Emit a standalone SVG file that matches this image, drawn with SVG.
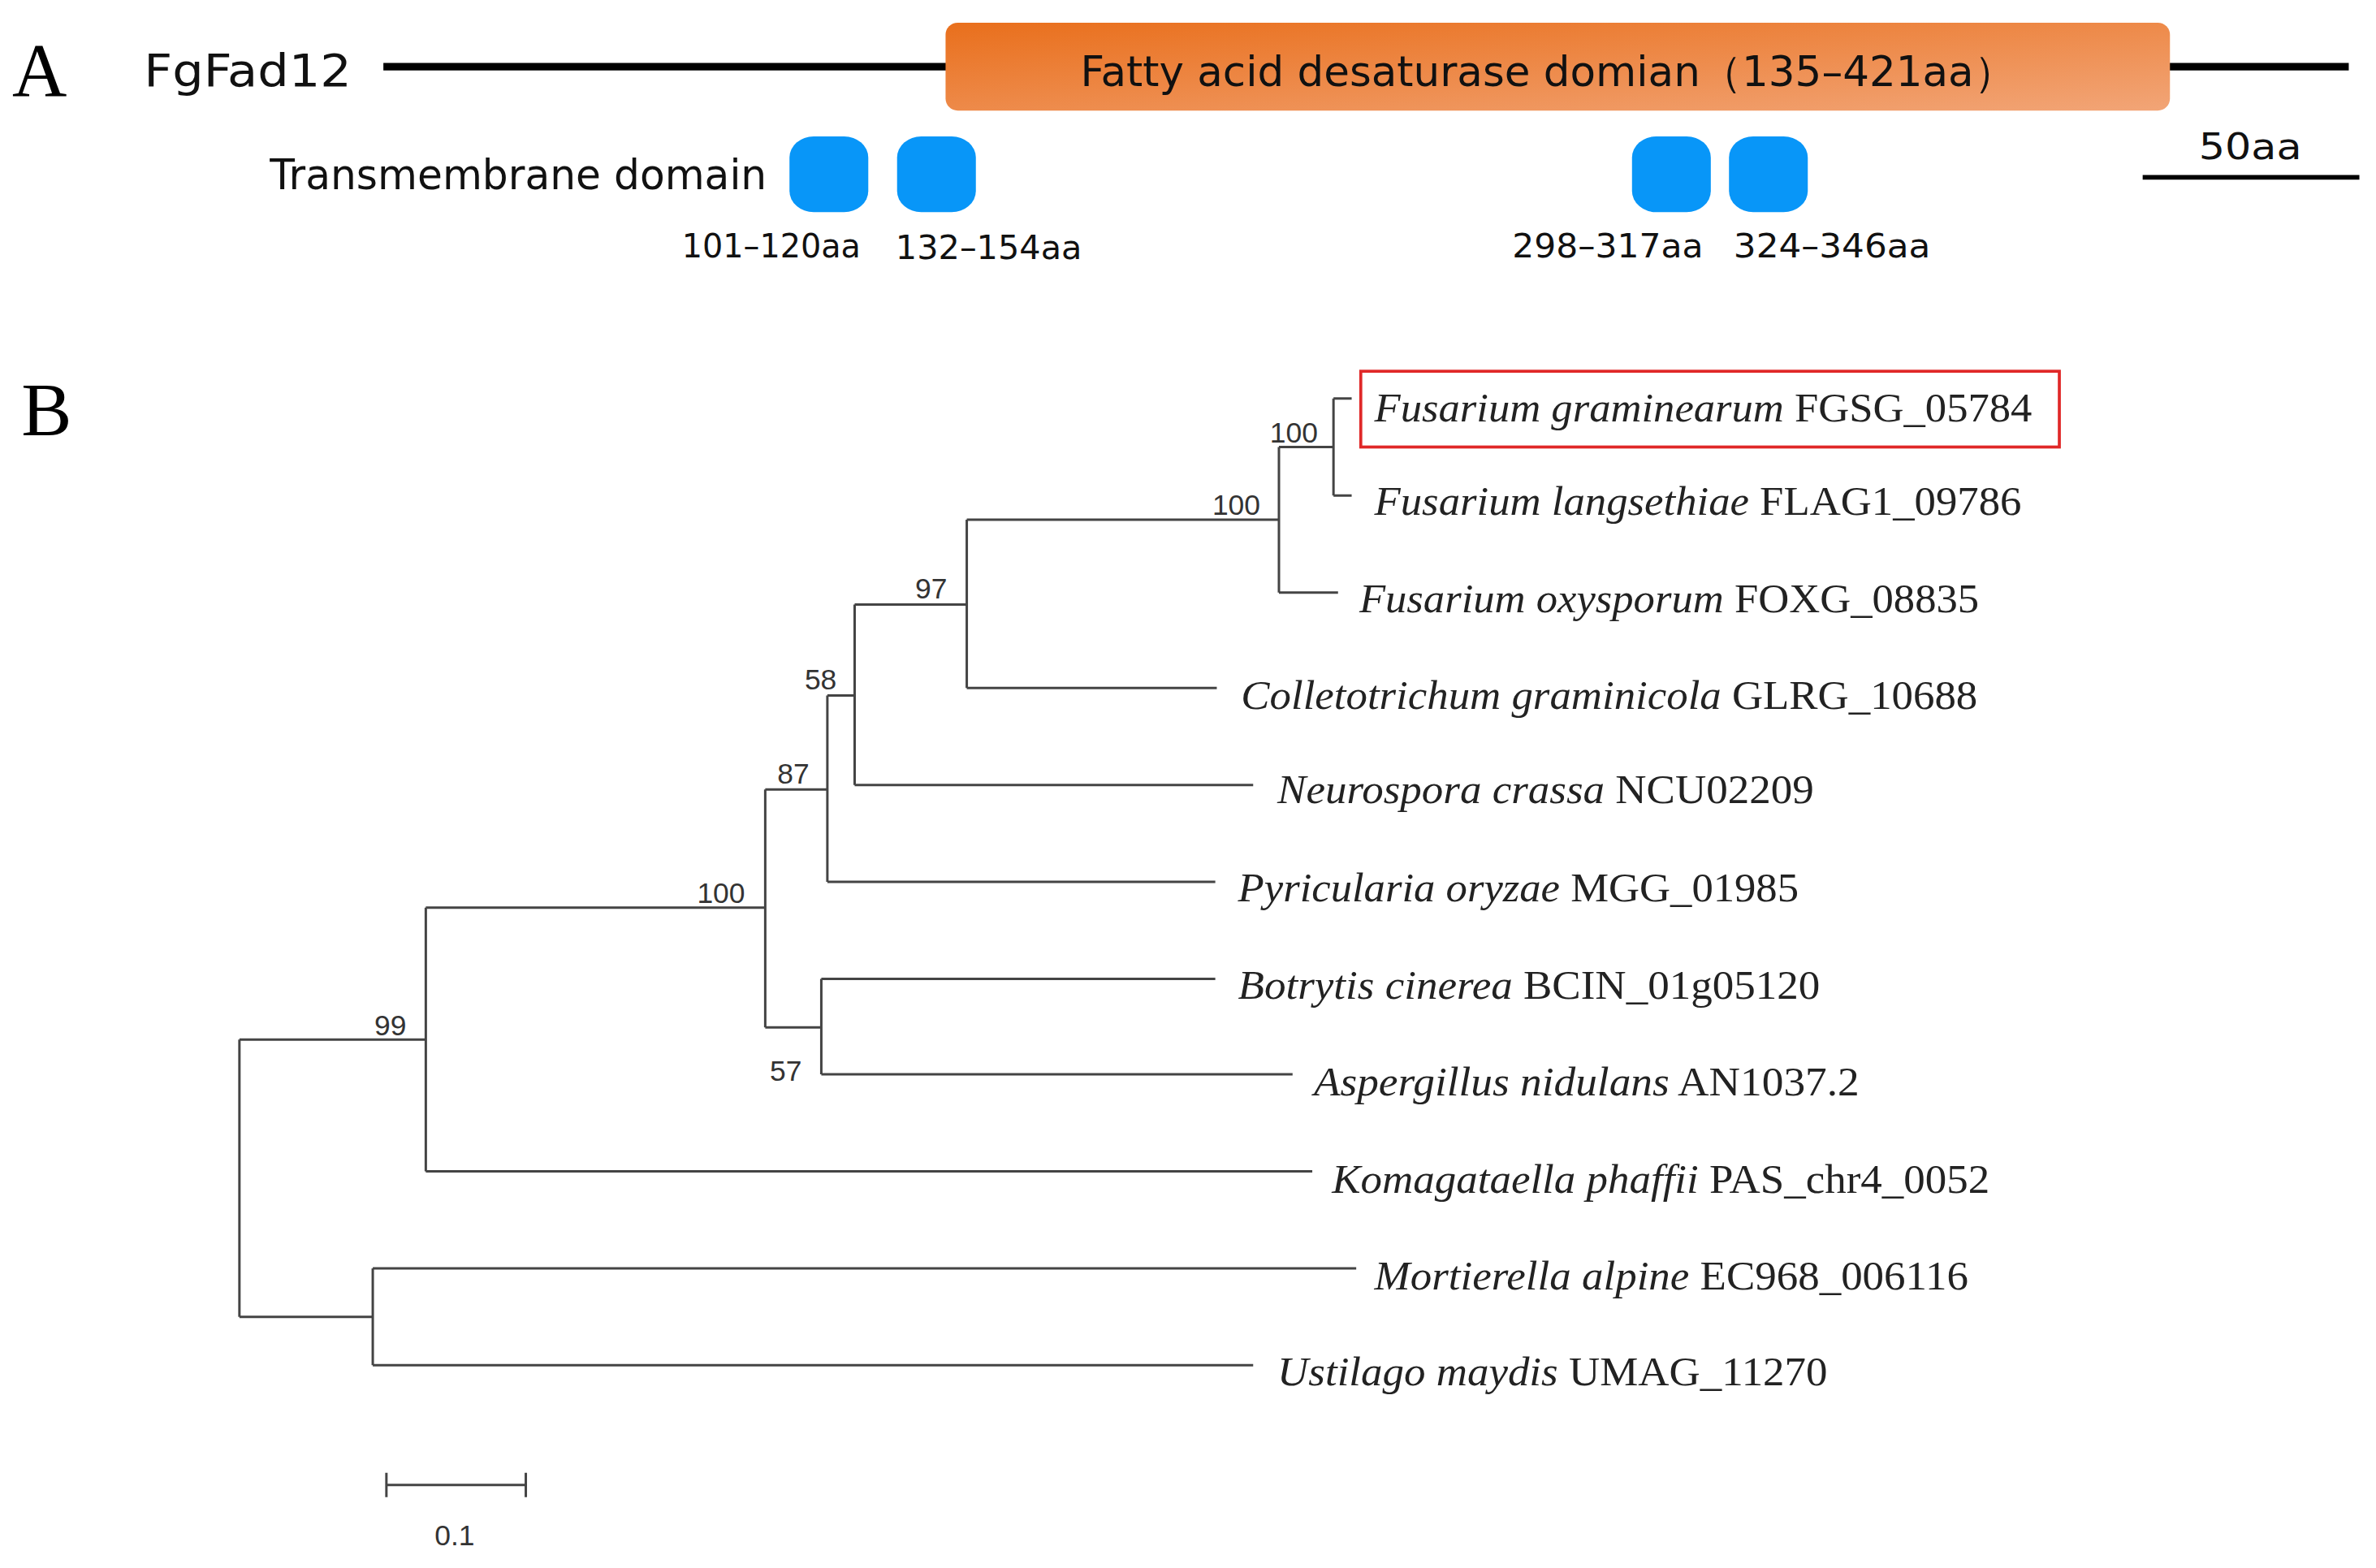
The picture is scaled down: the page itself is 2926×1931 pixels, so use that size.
<svg xmlns="http://www.w3.org/2000/svg" width="2926" height="1931" viewBox="0 0 2926 1931">
<defs>
<linearGradient id="og" x1="0" y1="0" x2="1" y2="1">
<stop offset="0" stop-color="#E96F1C"/><stop offset="1" stop-color="#F2A577"/>
</linearGradient>
<style>
.t{font-family:"DejaVu Sans",sans-serif;fill:#111}
.big{font-family:"Liberation Serif",serif;font-size:50px;fill:#000}
.tm{fill:#0896F8}
.br{fill:none;stroke:#444;stroke-width:1.6}
.bs{font-family:"Liberation Sans Narrow","Liberation Sans",sans-serif;font-size:19px;fill:#333}
.lf{font-family:"Liberation Serif",serif;font-size:27px;fill:#222}
.i{font-style:italic}
</style>
</defs>
<rect width="2926" height="1931" fill="#fff"/>
<g transform="scale(1.8661)">
<g id="panelA">
<text class="big" x="8" y="63">A</text>
<text class="t" x="95" y="57" font-size="30" textLength="137" lengthAdjust="spacingAndGlyphs">FgFad12</text>
<g id="protein-line"><line x1="253" y1="44" x2="625" y2="44" stroke="#000" stroke-width="5"/><line x1="1430" y1="44" x2="1550" y2="44" stroke="#000" stroke-width="5"/></g>
<g id="fad-domain"><rect x="624" y="15" width="808" height="58" rx="8" fill="url(#og)"/>
<text class="t" x="713" y="57" font-size="28" textLength="617" lengthAdjust="spacingAndGlyphs">Fatty acid desaturase domian（135–421aa）</text></g>
<text class="t" x="178" y="125" font-size="28" textLength="328" lengthAdjust="spacingAndGlyphs">Transmembrane domain</text>
<g id="tm1"><rect class="tm" x="521" y="90" width="52" height="50" rx="16" ry="14"/><text class="t" x="450" y="170" font-size="22" textLength="118" lengthAdjust="spacingAndGlyphs">101–120aa</text></g>
<g id="tm2"><rect class="tm" x="592" y="90" width="52" height="50" rx="16" ry="14"/><text class="t" x="591" y="171" font-size="22" textLength="123" lengthAdjust="spacingAndGlyphs">132–154aa</text></g>
<g id="tm3"><rect class="tm" x="1077" y="90" width="52" height="50" rx="16" ry="14"/><text class="t" x="998" y="170" font-size="22" textLength="126" lengthAdjust="spacingAndGlyphs">298–317aa</text></g>
<g id="tm4"><rect class="tm" x="1141" y="90" width="52" height="50" rx="16" ry="14"/><text class="t" x="1144" y="170" font-size="22" textLength="130" lengthAdjust="spacingAndGlyphs">324–346aa</text></g>
<g id="scaleA"><text class="t" x="1451" y="105" font-size="24" textLength="68" lengthAdjust="spacingAndGlyphs">50aa</text><line x1="1414" y1="117" x2="1557" y2="117" stroke="#000" stroke-width="3"/></g>
</g>
<g id="panelB">
<text class="big" x="14" y="287">B</text>
<g id="connectors">
<path class="br" d="M880,263 V327 M880,263 H892 M880,327 H892"/>
<path class="br" d="M844,295 V391 M844,295 H880 M844,391 H883"/>
<path class="br" d="M638,343 V454 M638,343 H844 M638,454 H803"/>
<path class="br" d="M564,399 V518 M564,399 H638 M564,518 H827"/>
<path class="br" d="M546,459 V582 M546,459 H564 M546,582 H802"/>
<path class="br" d="M505,521 V678 M505,521 H546"/>
<path class="br" d="M542,646 V709 M505,678 H542 M542,646 H802 M542,709 H853"/>
<path class="br" d="M281,599 V773 M281,599 H505 M281,773 H866"/>
<path class="br" d="M158,686 V869 M158,686 H281 M158,869 H246"/>
<path class="br" d="M246,837 V901 M246,837 H895 M246,901 H827"/>
</g>
<g id="bootstrap">
<text class="bs" x="838" y="292">100</text>
<text class="bs" x="800" y="340">100</text>
<text class="bs" x="604" y="395">97</text>
<text class="bs" x="531" y="455">58</text>
<text class="bs" x="513" y="517">87</text>
<text class="bs" x="460" y="596">100</text>
<text class="bs" x="508" y="713">57</text>
<text class="bs" x="247" y="683">99</text>
</g>
<g id="leaf-FG"><rect x="898" y="245" width="461" height="50" fill="none" stroke="#E02828" stroke-width="2"/><text class="lf" x="907" y="278" textLength="434" lengthAdjust="spacingAndGlyphs"><tspan class="i">Fusarium graminearum</tspan> FGSG_05784</text></g>
<g id="leaf-FL"><text class="lf" x="907" y="340" textLength="427" lengthAdjust="spacingAndGlyphs"><tspan class="i">Fusarium langsethiae</tspan> FLAG1_09786</text></g>
<g id="leaf-FO"><text class="lf" x="897" y="404" textLength="409" lengthAdjust="spacingAndGlyphs"><tspan class="i">Fusarium oxysporum</tspan> FOXG_08835</text></g>
<g id="leaf-CG"><text class="lf" x="819" y="468" textLength="486" lengthAdjust="spacingAndGlyphs"><tspan class="i">Colletotrichum graminicola</tspan> GLRG_10688</text></g>
<g id="leaf-NC"><text class="lf" x="843" y="530" textLength="354" lengthAdjust="spacingAndGlyphs"><tspan class="i">Neurospora crassa</tspan> NCU02209</text></g>
<g id="leaf-PO"><text class="lf" x="817" y="595" textLength="370" lengthAdjust="spacingAndGlyphs"><tspan class="i">Pyricularia oryzae</tspan> MGG_01985</text></g>
<g id="leaf-BC"><text class="lf" x="817" y="659" textLength="384" lengthAdjust="spacingAndGlyphs"><tspan class="i">Botrytis cinerea</tspan> BCIN_01g05120</text></g>
<g id="leaf-AN"><text class="lf" x="867" y="723" textLength="360" lengthAdjust="spacingAndGlyphs"><tspan class="i">Aspergillus nidulans</tspan> AN1037.2</text></g>
<g id="leaf-KP"><text class="lf" x="879" y="787" textLength="434" lengthAdjust="spacingAndGlyphs"><tspan class="i">Komagataella phaffii</tspan> PAS_chr4_0052</text></g>
<g id="leaf-MA"><text class="lf" x="907" y="851" textLength="392" lengthAdjust="spacingAndGlyphs"><tspan class="i">Mortierella alpine</tspan> EC968_006116</text></g>
<g id="leaf-UM"><text class="lf" x="843" y="914" textLength="363" lengthAdjust="spacingAndGlyphs"><tspan class="i">Ustilago maydis</tspan> UMAG_11270</text></g>
<g id="scaleB"><path class="br" d="M255,980 H347 M255,972 V988 M347,972 V988"/><text class="bs" x="300" y="1020" font-size="20" text-anchor="middle">0.1</text></g>
</g>
</g>
</svg>
